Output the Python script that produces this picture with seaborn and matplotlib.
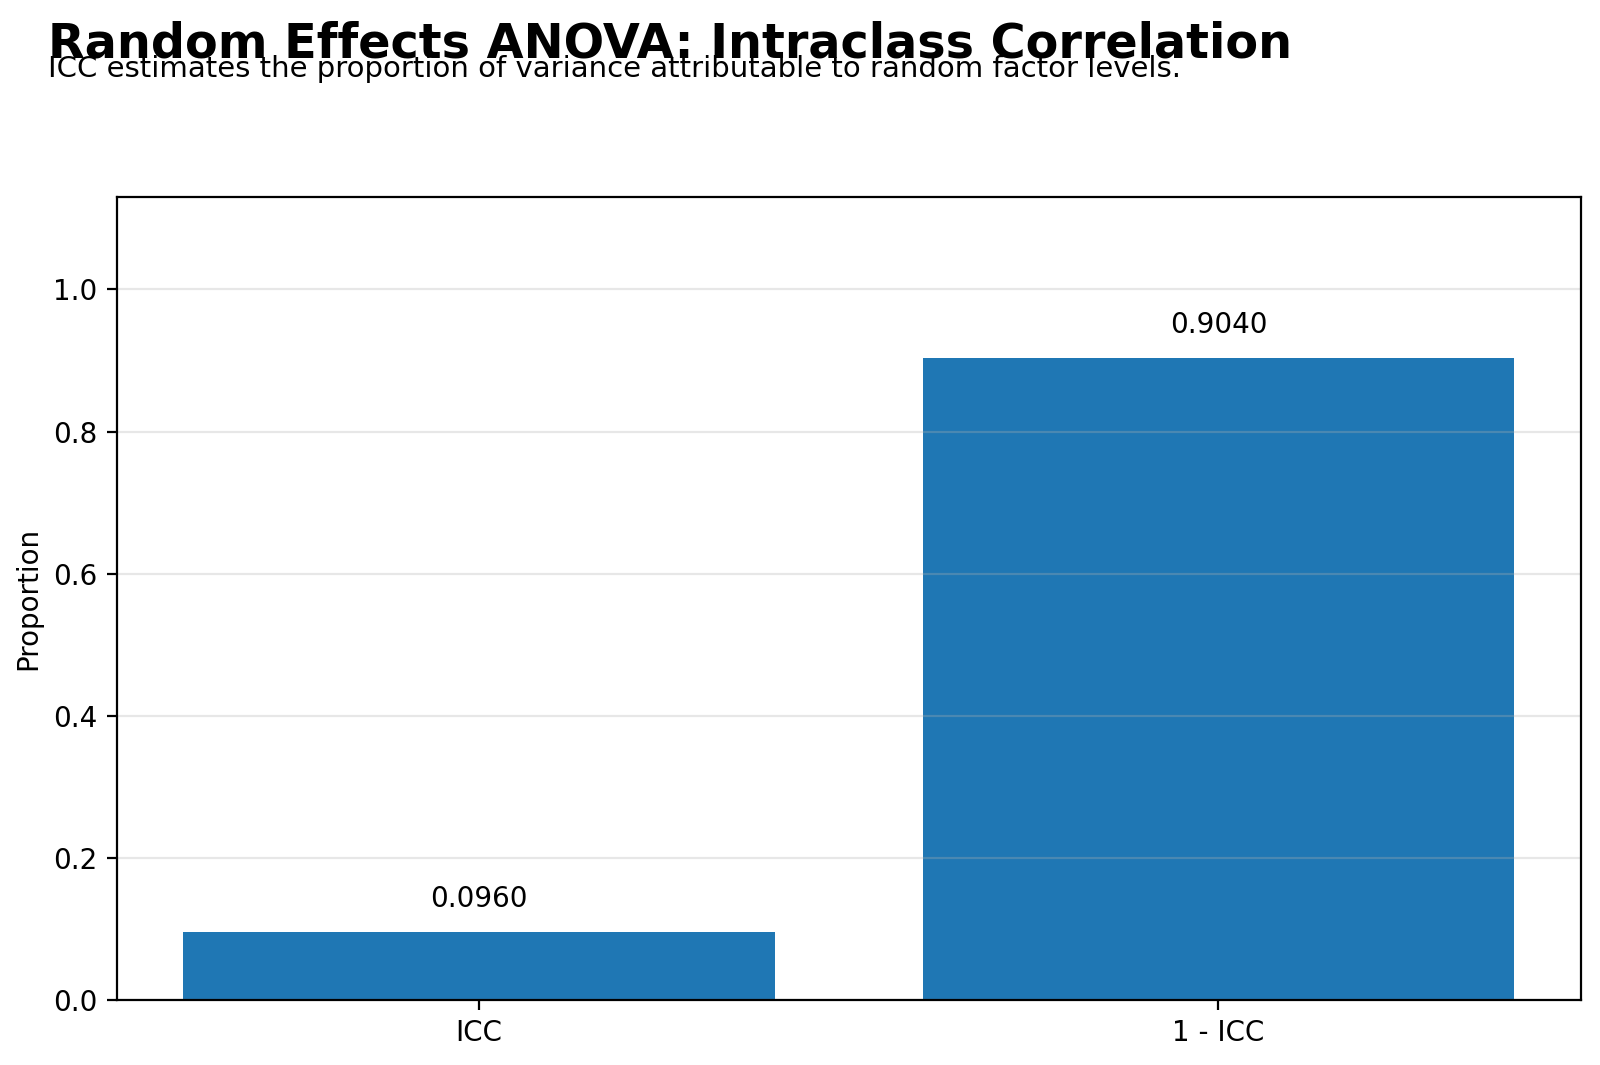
import matplotlib
matplotlib.use('Agg')
import seaborn as sns
import pandas as pd
import matplotlib.pyplot as plt

# data
components = ["ICC", "1 - ICC"]
proportions = [0.0960, 0.9040]

df = pd.DataFrame({"Component": components, "Proportion": proportions})

fig = plt.figure(figsize=(8, 5.325), dpi=200)
ax = fig.add_axes([0.073, 0.061, 0.915, 0.754])

sns.barplot(data=df, x="Component", y="Proportion", color="#1f77b4",
            saturation=1, width=0.8, ax=ax)

# value labels above bars
for i, v in enumerate(proportions):
    ax.text(i, v + 0.026, f"{v:.4f}", ha="center", va="bottom", fontsize=10)

ax.set_xlim(-0.49, 1.49)
ax.set_ylim(0, max(proportions) * 1.25)
ax.set_xlabel("")
ax.set_ylabel("Proportion", fontsize=10)
ax.yaxis.grid(True, alpha=0.3)
ax.tick_params(labelsize=10)

fig.text(0.03, 0.981, "Random Effects ANOVA: Intraclass Correlation",
         fontsize=17.2, fontweight="bold", va="top", ha="left")
fig.text(0.03, 0.948, "ICC estimates the proportion of variance attributable to random factor levels.",
         fontsize=10.5, va="top", ha="left")

fig.savefig("out.png", dpi=200)
